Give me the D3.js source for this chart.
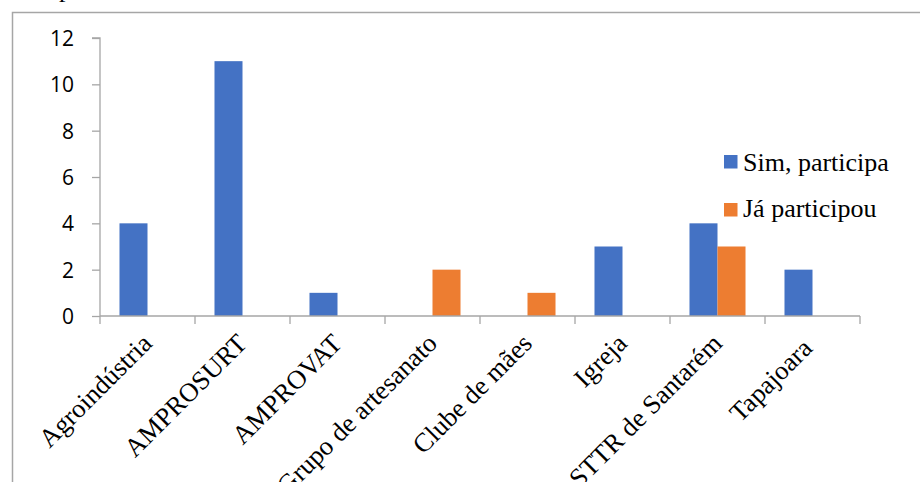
<!DOCTYPE html>
<html>
<head>
<meta charset="utf-8">
<script src="https://cdn.jsdelivr.net/npm/d3@7"></script>
<style>
  html, body { margin: 0; padding: 0; background: #fff; }
  svg { display: block; }
</style>
</head>
<body>
<svg id="chart" width="920" height="482"></svg>
<script>
const categories = ["Agroindústria", "AMPROSURT", "AMPROVAT", "Grupo de artesanato", "Clube de mães", "Igreja", "STTR de Santarém", "Tapajoara "];
const seriesNames = ["Sim, participa", "Já participou"];
const simParticipa = [4, 11, 1, 0, 0, 3, 4, 2];
const jaParticipou = [0, 0, 0, 2, 1, 0, 3, 0];
const yTicks = [0, 2, 4, 6, 8, 10, 12];
const colors = ["#4472C4", "#ED7D31"];

const svg = d3.select("#chart");
const W = 920, H = 482;
svg.append("rect").attr("width", W).attr("height", H).attr("fill", "#fff");

// cut-off text fragment above the frame
svg.append("text").attr("x", 59).attr("y", -3.5)
  .attr("font-family", "'Liberation Serif', 'Times New Roman', serif")
  .attr("font-size", 26).attr("fill", "#000").text("p");

// outer frame
svg.append("rect").attr("x", 12.5).attr("y", 12.5).attr("width", 1000).attr("height", 1000)
  .attr("fill", "none").attr("stroke", "#a6a6a6").attr("stroke-width", 1.5);

const plot = { left: 100, right: 860, top: 38, bottom: 316 };

const x = d3.scaleBand().domain(categories).range([plot.left, plot.right]).paddingInner(0).paddingOuter(0);
const xs = d3.scaleBand().domain(seriesNames).range([0, x.bandwidth()]).paddingInner(0).paddingOuter(0.696);
const y = d3.scaleLinear().domain([0, 12]).range([plot.bottom, plot.top]);

const data = [simParticipa, jaParticipou];
const axisColor = "#a6a6a6";

// bars
seriesNames.forEach((s, si) => {
  svg.append("g").selectAll("rect")
    .data(categories.map((c, i) => ({ c, v: data[si][i] })).filter(d => d.v > 0))
    .join("rect")
    .attr("x", d => x(d.c) + xs(s))
    .attr("y", d => y(d.v))
    .attr("width", xs.bandwidth())
    .attr("height", d => y(0) - y(d.v))
    .attr("fill", colors[si]);
});

// y axis
const yAxis = d3.axisLeft(y).tickValues(yTicks).tickSize(8).tickPadding(18).tickFormat(d3.format("d"));
const gy = svg.append("g").attr("transform", `translate(${plot.left},0)`).call(yAxis);
gy.select(".domain").attr("stroke", axisColor).attr("stroke-width", 1.3).attr("d", `M-8,${plot.top}H0V${plot.bottom}`);
gy.selectAll(".tick line").attr("stroke", axisColor).attr("stroke-width", 1.3);
gy.selectAll(".tick text").attr("font-family", "'Open Sans', 'Liberation Sans', sans-serif")
  .attr("font-size", 21).attr("fill", "#000").attr("dy", "0.36em");

// x axis
const boundaries = categories.map(c => x(c)).concat([x(categories[categories.length - 1]) + x.bandwidth()]);
const gx = svg.append("g");
gx.append("line").attr("x1", plot.left).attr("x2", plot.right).attr("y1", plot.bottom).attr("y2", plot.bottom)
  .attr("stroke", axisColor).attr("stroke-width", 1.3);
gx.selectAll("line.tk").data(boundaries).join("line").attr("class", "tk")
  .attr("x1", d => d).attr("x2", d => d).attr("y1", plot.bottom).attr("y2", plot.bottom + 8)
  .attr("stroke", axisColor).attr("stroke-width", 1.3);
gx.selectAll("text").data(categories).join("text")
  .attr("transform", d => `translate(${x(d) + x.bandwidth() / 2 + 6},${plot.bottom + 29}) rotate(-45)`)
  .attr("text-anchor", "end")
  .style("white-space", "pre")
  .attr("font-family", "'Liberation Serif', 'Times New Roman', serif")
  .attr("font-size", 26.5).attr("fill", "#000")
  .text(d => d);

// legend
const legend = svg.append("g");
const legendY = [155, 203];
const legendBase = [171, 216.5];
seriesNames.forEach((s, i) => {
  legend.append("rect").attr("x", 724).attr("y", legendY[i]).attr("width", 13.5).attr("height", 13.5).attr("fill", colors[i]);
  legend.append("text").attr("x", 743).attr("y", legendBase[i])
    .attr("font-family", "'Liberation Serif', 'Times New Roman', serif")
    .attr("font-size", 26).attr("fill", "#000").text(s);
});
</script>
</body>
</html>
